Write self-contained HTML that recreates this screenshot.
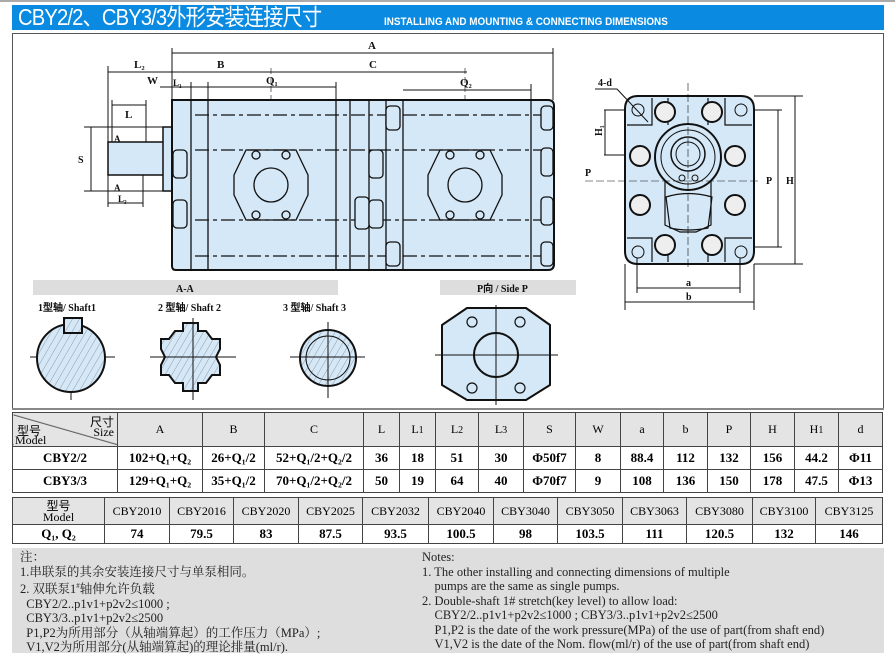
<!DOCTYPE html>
<html><head><meta charset="utf-8"><style>
body{margin:0;width:895px;height:656px;background:#fff;position:relative;overflow:hidden;font-family:"Liberation Serif","Noto Serif CJK SC",serif;}
.hdr{position:absolute;left:12px;top:5px;width:872px;height:25px;background:#0a8ae0;color:#fff;white-space:nowrap;overflow:hidden;}
.hdr .t{position:absolute;left:6px;top:0;font:23px/25px "Liberation Sans","Noto Sans CJK SC",sans-serif;letter-spacing:-1px;transform:scaleX(0.88);transform-origin:left;}
.hdr .e{position:absolute;left:372px;top:11px;font:bold 11px/13px "Liberation Sans",sans-serif;transform:scaleX(0.9);transform-origin:left;}
table{position:absolute;border-collapse:collapse;table-layout:fixed;}
td{border:1.5px solid #444;text-align:center;padding:0;font-size:12px;}
.g td{background:#e4e4e4;}
.b td{font-weight:bold;font-size:13px;}
.notes{position:absolute;left:12px;top:548px;width:872px;height:105px;background:#dedede;font-size:12.5px;line-height:14.5px;color:#222;}
</style></head><body>
<div style="position:absolute;left:0;top:0;width:895px;height:2px;background:#aaa"></div>
<div class="hdr"><span class="t">CBY2/2、CBY3/3外形安装连接尺寸</span><span class="e">INSTALLING AND MOUNTING &amp; CONNECTING DIMENSIONS</span></div>
<div style="position:absolute;left:12px;top:33px;width:870px;height:375px;border:1.5px solid #555;border-bottom:none"></div>
<svg style="position:absolute;left:0;top:0" width="895" height="410" font-family="Liberation Serif" font-weight="bold">
<defs><pattern id="h" width="6" height="6" patternUnits="userSpaceOnUse" patternTransform="rotate(30)"><rect width="6" height="6" fill="#d5e8f7"/><line x1="0" y1="0" x2="0" y2="6" stroke="#666" stroke-width="0.6"/></pattern>
<g id="fl" stroke="#111" fill="none" stroke-width="1.3"><path d="M-25 -35 H25 L37 -10 V10 L25 35 H-25 L-37 10 V-10 Z"/><circle r="17"/><circle cx="-15" cy="-30" r="4"/><circle cx="15" cy="-30" r="4"/><circle cx="-15" cy="30" r="4"/><circle cx="15" cy="30" r="4"/></g></defs>
<g stroke="#111" fill="none" stroke-width="1">
<line x1="172" y1="53" x2="553" y2="53"/><line x1="172" y1="48" x2="172" y2="100"/><line x1="553" y1="48" x2="553" y2="100"/>
<line x1="108" y1="72" x2="467" y2="72"/><line x1="108" y1="66" x2="108" y2="142"/><line x1="271" y1="68" x2="271" y2="270" stroke-dasharray="6 3" stroke-width="0.6"/><line x1="465" y1="68" x2="465" y2="270" stroke-dasharray="6 3" stroke-width="0.6"/>
<line x1="160" y1="87" x2="336" y2="87"/><line x1="208" y1="82" x2="208" y2="100"/><line x1="336" y1="82" x2="336" y2="100"/><line x1="191" y1="82" x2="191" y2="100"/>
<line x1="403" y1="90" x2="531" y2="90"/><line x1="531" y1="84" x2="531" y2="100"/>
<line x1="112" y1="105" x2="146" y2="105"/><line x1="112" y1="100" x2="112" y2="142"/><line x1="146" y1="100" x2="146" y2="142"/>
<line x1="84" y1="127" x2="170" y2="127"/><line x1="84" y1="191" x2="170" y2="191"/><line x1="91" y1="127" x2="91" y2="191"/>
<line x1="108" y1="203" x2="143" y2="203"/><line x1="143" y1="175" x2="143" y2="207"/><line x1="108" y1="175" x2="108" y2="207"/>
<rect x="108" y="142" width="56" height="33" fill="#d5e8f7" stroke-width="1.5"/>
<rect x="163" y="127" width="9" height="64" fill="#d5e8f7" stroke-width="1.5"/>
<path d="M172 100 H548 Q554 100 554 106 V264 Q554 270 548 270 H176 Q172 270 172 266 Z" fill="#d5e8f7" stroke-width="2"/>
<g stroke-width="1.3"><line x1="191" y1="100" x2="191" y2="270"/><line x1="208" y1="100" x2="208" y2="270"/><line x1="336" y1="100" x2="336" y2="270"/><line x1="350" y1="100" x2="350" y2="270"/><line x1="369" y1="100" x2="369" y2="270"/><line x1="386" y1="100" x2="386" y2="270"/><line x1="403" y1="100" x2="403" y2="270"/><line x1="531" y1="100" x2="531" y2="270"/></g>
<g stroke-dasharray="14 4 4 4" stroke-width="1.3"><line x1="195" y1="115" x2="550" y2="115"/><line x1="195" y1="150" x2="550" y2="150"/><line x1="195" y1="220" x2="550" y2="220"/><line x1="195" y1="256" x2="550" y2="256"/></g>
<use href="#fl" x="271" y="185"/><use href="#fl" x="465" y="185"/>
<g stroke-width="1.3" fill="#d5e8f7"><rect x="173" y="150" width="14" height="28" rx="4"/><rect x="173" y="200" width="14" height="28" rx="4"/><rect x="369" y="150" width="14" height="28" rx="4"/><rect x="355" y="197" width="14" height="32" rx="4"/><rect x="369" y="200" width="14" height="28" rx="4"/><rect x="386" y="106" width="14" height="24" rx="4"/><rect x="386" y="242" width="14" height="24" rx="4"/><rect x="541" y="106" width="12" height="24" rx="4"/><rect x="541" y="148" width="12" height="28" rx="4"/><rect x="541" y="197" width="12" height="28" rx="4"/><rect x="541" y="242" width="12" height="24" rx="4"/></g>
<path d="M638 96 H741 Q754 96 754 109 V251 Q754 264 741 264 H638 Q625 264 625 251 V109 Q625 96 638 96 Z" fill="#d5e8f7" stroke-width="2"/>
<g stroke-width="1.2"><path d="M652 98 V125 H627 M725 98 V125 H752 M652 262 V238 H627 M725 262 V238 H752 M668 98 V125 M708 98 V125 M668 262 V238 M708 262 V238"/><path d="M665 180 V225 L680 232 H696 L711 225 V180"/><path d="M666 197 Q688 190 712 197 L708 228 Q688 232 670 228 Z"/></g>
<circle cx="688" cy="157" r="33" stroke-width="2"/><circle cx="688" cy="157" r="27"/><circle cx="688" cy="154" r="17" stroke-width="1.5"/><circle cx="688" cy="154" r="12"/>
<circle cx="682" cy="178" r="3"/><circle cx="695" cy="178" r="3"/>
<g fill="#eee" stroke-width="2"><circle cx="665" cy="112" r="10"/><circle cx="712" cy="112" r="10"/><circle cx="640" cy="156" r="10"/><circle cx="735" cy="156" r="10"/><circle cx="640" cy="205" r="10"/><circle cx="735" cy="205" r="10"/><circle cx="665" cy="245" r="10"/><circle cx="712" cy="245" r="10"/></g>
<g stroke-width="1"><circle cx="638" cy="110" r="6"/><circle cx="741" cy="110" r="6"/><circle cx="638" cy="252" r="6"/><circle cx="741" cy="252" r="6"/></g>
<line x1="688" y1="83" x2="688" y2="270" stroke-dasharray="8 3" stroke-width="0.6"/><line x1="585" y1="181" x2="760" y2="181" stroke-dasharray="8 3" stroke-width="0.6"/>
<line x1="595" y1="89" x2="617" y2="89"/><line x1="617" y1="89" x2="648" y2="122"/>
<line x1="604" y1="110" x2="625" y2="110"/><line x1="604" y1="155" x2="625" y2="155"/><line x1="605" y1="110" x2="605" y2="155"/>
<line x1="754" y1="110" x2="782" y2="110"/><line x1="754" y1="247" x2="782" y2="247"/><line x1="778" y1="110" x2="778" y2="247"/>
<line x1="754" y1="96" x2="803" y2="96"/><line x1="754" y1="264" x2="803" y2="264"/><line x1="795" y1="96" x2="795" y2="264"/>
<line x1="625" y1="264" x2="625" y2="310"/><line x1="754" y1="264" x2="754" y2="310"/><line x1="637" y1="258" x2="637" y2="293"/><line x1="740" y1="258" x2="740" y2="293"/>
<line x1="637" y1="288" x2="740" y2="288"/><line x1="625" y1="302" x2="754" y2="302"/>
<line x1="30" y1="357" x2="115" y2="357"/><line x1="71" y1="318" x2="71" y2="400"/>
<circle cx="71" cy="358" r="34" fill="url(#h)" stroke-width="2"/><rect x="64" y="318" width="18" height="15" fill="url(#h)" stroke-width="2"/>
<path d="M183 323 h15 v8 h8 l6 8 h8 v10 l-4 8 4 8 v10 h-8 l-6 8 h-8 v8 h-15 v-8 h-8 l-6 -8 h-8 v-10 l4 -8 -4 -8 v-10 h8 l6 -8 h8 z" fill="url(#h)" stroke-width="2"/>
<line x1="150" y1="357" x2="236" y2="357"/><line x1="193" y1="318" x2="193" y2="400"/>
<circle cx="328" cy="358" r="28" fill="url(#h)" stroke-width="2"/><circle cx="328" cy="358" r="22"/>
<line x1="290" y1="357" x2="365" y2="357"/><line x1="328" y1="322" x2="328" y2="398"/>
<path d="M467 308 H526 L550 325 V385 L526 400 H467 L442 385 V325 Z" fill="#d5e8f7" stroke-width="2" stroke-linejoin="round"/>
<circle cx="496" cy="355" r="22" stroke-width="2"/><g stroke-width="1.2"><circle cx="472" cy="322" r="5"/><circle cx="520" cy="322" r="5"/><circle cx="472" cy="388" r="5"/><circle cx="520" cy="388" r="5"/></g>
<line x1="435" y1="355" x2="558" y2="355"/><line x1="496" y1="305" x2="496" y2="405"/>
</g>
<rect x="33" y="280" width="305" height="15" fill="#ddd"/><rect x="440" y="280" width="136" height="15" fill="#ddd"/>
<g font-size="11" fill="#111">
<text x="368" y="49">A</text><text x="217" y="68">B</text><text x="369" y="68">C</text><text x="134" y="68">L₂</text><text x="266" y="84">Q₁</text><text x="460" y="86">Q₂</text><text x="147" y="84">W</text><text x="173" y="86" font-size="9">L₁</text><text x="125" y="118">L</text><text x="114" y="142" font-size="9">A</text><text x="114" y="191" font-size="9">A</text><text x="118" y="202" font-size="9">L₃</text><text x="78" y="163" font-size="10">S</text>
<text x="598" y="86" font-size="10">4-d</text><text x="592" y="134" font-size="10" transform="rotate(-90 598 130)">H₁</text><text x="585" y="176" font-size="10">P</text><text x="766" y="184" font-size="10">P</text><text x="786" y="184" font-size="10">H</text><text x="686" y="286" font-size="10">a</text><text x="686" y="300" font-size="10">b</text>
<text x="176" y="292" font-size="10">A-A</text><text x="477" y="292" font-size="10">P向 / Side P</text>
<text x="38" y="311" font-size="10">1型轴/ Shaft1</text><text x="158" y="311" font-size="10">2 型轴/ Shaft 2</text><text x="283" y="311" font-size="10">3 型轴/ Shaft  3</text>
</g>
</svg>
<div style="position:absolute;left:12px;top:408px;width:872px;height:2px;background:#888"></div>
<table style="left:12px;top:412px;width:870px">
<colgroup><col style="width:105px"><col style="width:85px"><col style="width:62px"><col style="width:99px"><col style="width:36px"><col style="width:36px"><col style="width:43px"><col style="width:45px"><col style="width:52px"><col style="width:45px"><col style="width:43px"><col style="width:44px"><col style="width:43px"><col style="width:44px"><col style="width:44px"><col style="width:44px"></colgroup>
<tr class="g" style="height:34px"><td style="position:relative;background:linear-gradient(16deg,#e4e4e4 49%,#444 50%,#e4e4e4 52%)"><span style="position:absolute;left:4px;top:9px;font-size:12px;font-family:'Noto Sans CJK SC'">型号</span><span style="position:absolute;left:2px;top:20px">Model</span><span style="position:absolute;right:3px;top:0;font-family:'Noto Sans CJK SC'">尺寸</span><span style="position:absolute;right:3px;top:12px">Size</span></td><td>A</td><td>B</td><td>C</td><td>L</td><td>L<small>1</small></td><td>L<small>2</small></td><td>L<small>3</small></td><td>S</td><td>W</td><td>a</td><td>b</td><td>P</td><td>H</td><td>H<small>1</small></td><td>d</td></tr>
<tr class="b" style="height:23px"><td>CBY2/2</td><td>102+Q₁+Q₂</td><td>26+Q₁/2</td><td>52+Q₁/2+Q₂/2</td><td>36</td><td>18</td><td>51</td><td>30</td><td>Φ50f7</td><td>8</td><td>88.4</td><td>112</td><td>132</td><td>156</td><td>44.2</td><td>Φ11</td></tr>
<tr class="b" style="height:23px"><td>CBY3/3</td><td>129+Q₁+Q₂</td><td>35+Q₁/2</td><td>70+Q₁/2+Q₂/2</td><td>50</td><td>19</td><td>64</td><td>40</td><td>Φ70f7</td><td>9</td><td>108</td><td>136</td><td>150</td><td>178</td><td>47.5</td><td>Φ13</td></tr>
</table>
<table style="left:12px;top:497px;width:870px">
<colgroup><col style="width:92px"><col style="width:65px"><col style="width:64px"><col style="width:65px"><col style="width:64px"><col style="width:66px"><col style="width:65px"><col style="width:64px"><col style="width:65px"><col style="width:64px"><col style="width:66px"><col style="width:63px"><col style="width:67px"></colgroup>
<tr class="g" style="height:27px"><td style="line-height:11px"><span style="font-family:'Noto Sans CJK SC'">型号</span><br>Model</td><td>CBY2010</td><td>CBY2016</td><td>CBY2020</td><td>CBY2025</td><td>CBY2032</td><td>CBY2040</td><td>CBY3040</td><td>CBY3050</td><td>CBY3063</td><td>CBY3080</td><td>CBY3100</td><td>CBY3125</td></tr>
<tr class="b" style="height:19px"><td>Q₁, Q₂</td><td>74</td><td>79.5</td><td>83</td><td>87.5</td><td>93.5</td><td>100.5</td><td>98</td><td>103.5</td><td>111</td><td>120.5</td><td>132</td><td>146</td></tr>
</table>
<div class="notes">
<div style="position:absolute;left:8px;top:2px;white-space:nowrap">注：<br>1.串联泵的其余安装连接尺寸与单泵相同。<br>2. 双联泵1<sup style="font-size:7px">#</sup>轴伸允许负载<br>&nbsp;&nbsp;CBY2/2..p1v1+p2v2≤1000 ;<br>&nbsp;&nbsp;CBY3/3..p1v1+p2v2≤2500<br>&nbsp;&nbsp;P1,P2为所用部分（从轴端算起）的工作压力（MPa）;<br>&nbsp;&nbsp;V1,V2为所用部分(从轴端算起)的理论排量(ml/r).</div>
<div style="position:absolute;left:410px;top:2px;white-space:nowrap">Notes:<br>1. The other installing and connecting dimensions of multiple<br>&nbsp;&nbsp;&nbsp;&nbsp;pumps are the same as single pumps.<br>2. Double-shaft 1# stretch(key level) to allow load:<br>&nbsp;&nbsp;&nbsp;&nbsp;CBY2/2..p1v1+p2v2≤1000 ; CBY3/3..p1v1+p2v2≤2500<br>&nbsp;&nbsp;&nbsp;&nbsp;P1,P2 is the date of the work pressure(MPa) of the use of part(from shaft end)<br>&nbsp;&nbsp;&nbsp;&nbsp;V1,V2 is the date of the Nom. flow(ml/r) of the use of part(from shaft end)</div>
</div>
</body></html>
